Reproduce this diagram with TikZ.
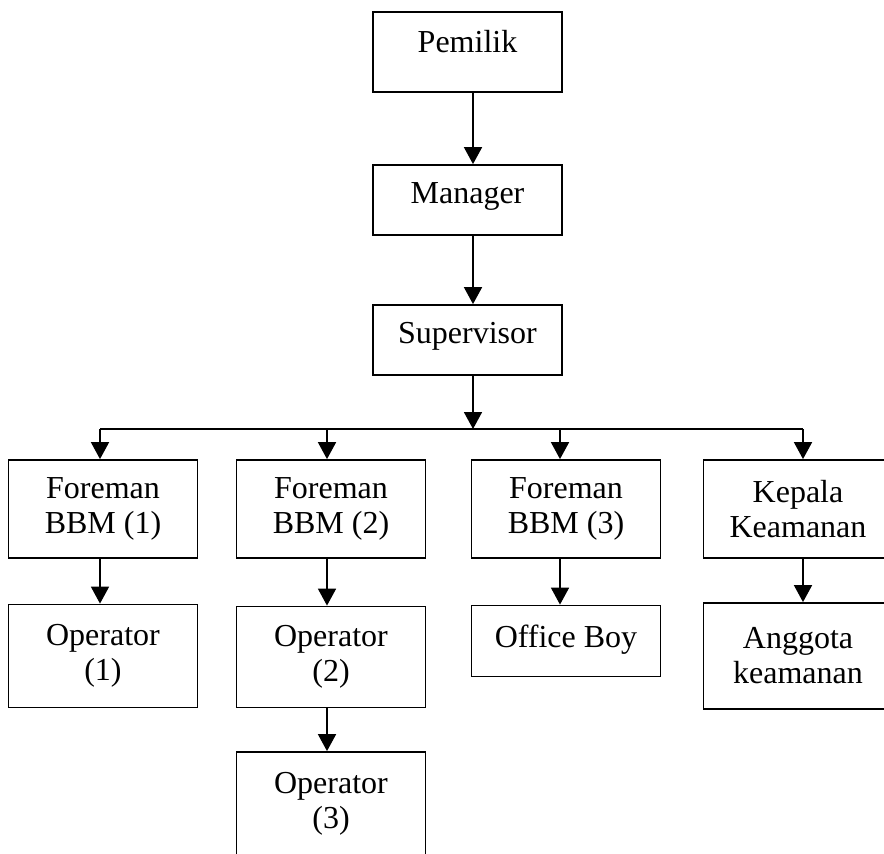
\documentclass[tikz,border=0pt]{standalone}
\usepackage{fontspec}
\setmainfont{Liberation Serif}
\usetikzlibrary{arrows.meta}
\begin{document}
\begin{tikzpicture}[x=1pt,y=-1pt,
  box/.style={draw,line width=1.8pt,inner sep=0pt,minimum width=189pt,align=center,
    font=\fontsize{32}{35}\selectfont},
  one/.style={text height=22pt,text depth=16pt},
  arr/.style={line width=1.8pt,-{Triangle[width=18pt,length=17pt]}},
  ln/.style={line width=1.8pt}]
\useasboundingbox (0,0) rectangle (884,854);
\node[box,one,text depth=22pt,minimum height=80pt] (pem) at (467.5,52) {Pemilik};
\node[box,one,minimum height=70pt] (man) at (467.5,200) {Manager};
\node[box,one,minimum height=70pt] (sup) at (467.5,340) {Supervisor};
\node[box,minimum height=98pt] (f1) at (103,509) {Foreman\\BBM (1)};
\node[box,minimum height=98pt] (f2) at (331,509) {Foreman\\BBM (2)};
\node[box,minimum height=98pt] (f3) at (566,509) {Foreman\\BBM (3)};
\node[box,minimum height=98pt] (k) at (798,509) {Kepala\\Keamanan};
\node[box,minimum height=103pt] (o1) at (103,656) {Operator\\(1)};
\node[box,minimum height=101pt] (o2) at (331,657) {Operator\\(2)};
\node[box,one,text depth=10pt,minimum height=71pt] (ob) at (566,641) {Office Boy};
\node[box,minimum height=106pt] (ag) at (798,656) {Anggota\\keamanan};
\node[box,minimum height=103pt] (o3) at (331,803.5) {Operator\\(3)};
\coordinate (ax) at (473,0);
\coordinate (b1) at (100,429);
\coordinate (b2) at (327,429);
\coordinate (b3) at (560,429);
\coordinate (b4) at (803,429);
\draw[arr] (pem.south -| ax) -- (man.north -| ax);
\draw[arr] (man.south -| ax) -- (sup.north -| ax);
\draw[arr] (sup.south -| ax) -- (ax |- b1);
\draw[ln] (b1) -- (b4);
\draw[arr] (b1) -- (f1.north -| b1);
\draw[arr] (b2) -- (f2.north -| b2);
\draw[arr] (b3) -- (f3.north -| b3);
\draw[arr] (b4) -- (k.north -| b4);
\draw[arr] (f1.south -| b1) -- (o1.north -| b1);
\draw[arr] (f2.south -| b2) -- (o2.north -| b2);
\draw[arr] (f3.south -| b3) -- (ob.north -| b3);
\draw[arr] (k.south -| b4) -- (ag.north -| b4);
\draw[arr] (o2.south -| b2) -- (o3.north -| b2);
\end{tikzpicture}
\end{document}
